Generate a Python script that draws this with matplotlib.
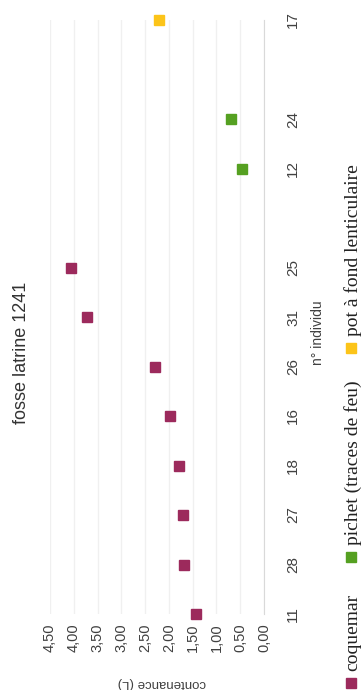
import numpy as np
import matplotlib.pyplot as plt
from matplotlib.lines import Line2D

# categories along the (vertical) individual axis, bottom to top; '' = empty slot
categories = ['11', '28', '27', '18', '16', '26', '31', '25', '', '12', '24', '', '17']

coquemar_ids = ['11', '28', '27', '18', '16', '26', '31', '25']
coquemar_vals = [1.43, 1.68, 1.70, 1.79, 1.97, 2.29, 3.72, 4.05]

pichet_ids = ['12', '24']
pichet_vals = [0.46, 0.69]

pot_ids = ['17']
pot_vals = [2.20]

value_ticks = [0, 0.5, 1, 1.5, 2, 2.5, 3, 3.5, 4, 4.5]

series = [
    ('coquemar', coquemar_ids, coquemar_vals, '#9c2a5c'),
    ('pichet (traces de feu)', pichet_ids, pichet_vals, '#55a021'),
    ('pot à fond lenticulaire', pot_ids, pot_vals, '#fcc419'),
]

W, H = 363, 690
fig = plt.figure(figsize=(W / 100, H / 100), dpi=100)
fig.patch.set_facecolor('white')

def px(x, y):
    # pixel position (top-left origin) -> figure fraction
    return x / W, 1 - y / H

l, t = px(50, 20)
r, b = px(264, 614)
ax = fig.add_axes([l, b, r - l, t - b])

pos = {c: i for i, c in enumerate(categories) if c}
for name, ids, vals, col in series:
    ax.plot(vals, [pos[i] for i in ids], 's', ms=7.3, color=col,
            linestyle='none', clip_on=False, zorder=3)

ax.set_xlim(4.5, 0)
ax.set_ylim(0, len(categories) - 1)

ax.set_xticks(value_ticks)
ax.set_xticklabels([('%.2f' % v).replace('.', ',') for v in value_ticks],
                   rotation=90, fontsize=10.5, color='#404040',
                   family='Liberation Sans', va='top', ha='center')
ax.tick_params(axis='x', length=0, pad=7)

ax.yaxis.tick_right()
ax.set_yticks(range(len(categories)))
ax.set_yticklabels(categories, rotation=90, fontsize=11, color='#404040',
                   family='Liberation Sans', va='center', ha='left')
ax.tick_params(axis='y', length=0, pad=16)

ax.grid(axis='x', color='#f0f0f0', lw=1)
ax.set_axisbelow(True)
for s in ['top', 'left', 'bottom']:
    ax.spines[s].set_visible(False)
ax.spines['right'].set_color('#d9d9d9')

# titles
x, y = px(22, 353)
fig.text(x, y, 'fosse latrine 1241', rotation=90, fontsize=13,
         family='Liberation Sans', color='#333333', ha='center', va='center')
x, y = px(318, 333)
fig.text(x, y, 'n° individu', rotation=90, fontsize=10,
         family='Liberation Sans', color='#404040', ha='center', va='center')
x, y = px(162, 683)
fig.text(x, y, 'contenance (L)', rotation=180, fontsize=9.5,
         family='Liberation Sans', color='#404040', ha='center', va='center')

# legend, drawn by hand since the whole chart is turned a quarter turn
legend_y = [683, 557, 348]
for (name, ids, vals, col), ly in zip(series, legend_y):
    mx, my = px(351, ly)
    fig.add_artist(Line2D([mx], [my], marker='s', ms=7.3, color=col,
                          linestyle='none', transform=fig.transFigure))
    tx, ty = px(353, ly - 12)
    fig.text(tx, ty, name, rotation=90, fontsize=14, family='Liberation Serif',
             color='#222222', ha='center', va='bottom')

fig.savefig('out.png', dpi=100, facecolor='white')
